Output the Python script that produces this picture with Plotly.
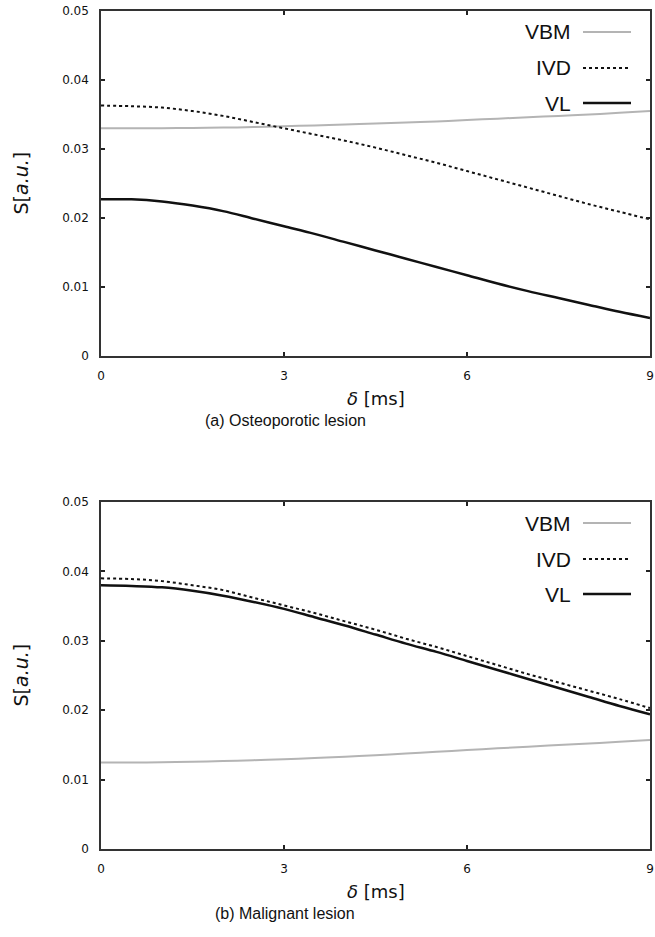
import plotly.graph_objects as go
from plotly.subplots import make_subplots

delta = [0, 0.5, 1, 1.5, 2, 2.5, 3, 3.5, 4, 4.5, 5, 5.5, 6, 6.5, 7, 7.5, 8, 8.5, 9]

# (a) Osteoporotic lesion
a_vbm = [0.0330, 0.0330, 0.03302, 0.03305, 0.0331, 0.03318, 0.0333, 0.03342, 0.03355, 0.0337,
         0.03385, 0.034, 0.0342, 0.0344, 0.0346, 0.0348, 0.0350, 0.03525, 0.0355]
a_ivd = [0.0363, 0.0362, 0.0360, 0.0355, 0.0348, 0.0339, 0.0330, 0.0321, 0.0312, 0.0302,
         0.0291, 0.0280, 0.0268, 0.0256, 0.0244, 0.0232, 0.0220, 0.0209, 0.0198]
a_vl = [0.0227, 0.0227, 0.0224, 0.0218, 0.0210, 0.0199, 0.0188, 0.0177, 0.0165, 0.0153,
        0.0141, 0.0129, 0.0117, 0.0105, 0.0094, 0.0084, 0.0074, 0.0064, 0.0055]

# (b) Malignant lesion
b_vbm = [0.01245, 0.01247, 0.0125, 0.01258, 0.01268, 0.0128, 0.01295, 0.0131, 0.0133, 0.01352,
         0.01375, 0.014, 0.01425, 0.0145, 0.01475, 0.015, 0.0152, 0.01545, 0.0157]
b_ivd = [0.0390, 0.0389, 0.0386, 0.0380, 0.0373, 0.0362, 0.0351, 0.0340, 0.0328, 0.0316,
         0.0303, 0.0291, 0.0278, 0.0265, 0.0252, 0.0240, 0.0228, 0.0216, 0.0203]
b_vl = [0.0380, 0.0379, 0.0377, 0.0372, 0.0365, 0.0356, 0.0346, 0.0334, 0.0322, 0.0309,
        0.0296, 0.0284, 0.0271, 0.0258, 0.0245, 0.0232, 0.0219, 0.0206, 0.0194]

series_names = ["VBM", "IVD", "VL"]
x_ticks = [0, 3, 6, 9]
y_ticks = [0, 0.01, 0.02, 0.03, 0.04, 0.05]
y_ticklabels = ["0", "0.01", "0.02", "0.03", "0.04", "0.05"]
captions = ["(a) Osteoporotic lesion", "(b) Malignant lesion"]

styles = {
    "VBM": dict(color="#b4b4b4", width=2, dash="solid"),
    "IVD": dict(color="#111111", width=2, dash="dot"),
    "VL": dict(color="#111111", width=2.5, dash="solid"),
}

W, H = 655, 937
ml, mr, mt, mb = 101, 5, 11, 88
pw = W - ml - mr
ph = H - mt - mb
top_px = (11, 356)
bot_px = (502, 849)
def dom(p):
    return [(H - mb - p[1]) / ph, (H - mb - p[0]) / ph]

fig = make_subplots(rows=2, cols=1)
panels = [(a_vbm, a_ivd, a_vl), (b_vbm, b_ivd, b_vl)]
for r, vals in enumerate(panels, start=1):
    for name, v in zip(series_names, vals):
        fig.add_trace(go.Scatter(x=delta, y=v, mode="lines", name=name, line=styles[name],
                                 line_shape="spline", showlegend=False), row=r, col=1)

fig.update_layout(
    width=W, height=H, margin=dict(l=ml, r=mr, t=mt, b=mb, autoexpand=False),
    paper_bgcolor="white", plot_bgcolor="white",
    font=dict(family="DejaVu Sans", size=12, color="#111"),
)
fig.update_layout(yaxis=dict(domain=dom(top_px)), yaxis2=dict(domain=dom(bot_px)))

axis_common = dict(showgrid=False, zeroline=False, showline=True, linecolor="#333", linewidth=1.5,
                   mirror="ticks", ticks="inside", ticklen=4, tickwidth=1.5, tickcolor="#222",
                   automargin=False,
                   tickfont=dict(family="DejaVu Sans", size=12, color="#111"))
for i in (1, 2):
    fig.update_xaxes(range=[0, 9], tickvals=x_ticks, ticktext=[str(t) for t in x_ticks],
                     ticklabelstandoff=8, row=i, col=1, **axis_common)
    fig.update_yaxes(range=[0, 0.05], tickvals=y_ticks, ticktext=y_ticklabels,
                     ticklabelstandoff=8, row=i, col=1, **axis_common)

ann = []
shapes = []
leg_offsets = [21, 57, 92]
for i, (px, cap) in enumerate(zip([top_px, bot_px], captions), start=1):
    xs = "x" if i == 1 else "x2"
    ys = "y" if i == 1 else "y2"
    hgt = px[1] - px[0]
    # legend
    for name, off in zip(series_names, leg_offsets):
        yd = 1 - off / hgt
        ann.append(dict(x=(573 - ml) / pw, y=yd, xref=f"{xs} domain", yref=f"{ys} domain",
                        text=name, showarrow=False, xanchor="right", yanchor="middle",
                        font=dict(family="Liberation Sans", size=21, color="#111")))
        st = styles[name]
        shapes.append(dict(type="line", x0=(583 - ml) / pw, x1=(631 - ml) / pw, y0=yd, y1=yd,
                           xref=f"{xs} domain", yref=f"{ys} domain",
                           line=dict(color=st["color"], width=st["width"], dash=st["dash"])))
    # y title
    ann.append(dict(x=(20 - ml) / pw, y=0.5, xref=f"{xs} domain", yref=f"{ys} domain",
                    text="S[<i>a.u.</i>]", textangle=-90, showarrow=False,
                    xanchor="center", yanchor="middle",
                    font=dict(family="DejaVu Sans", size=19, color="#111")))
    # x title
    ann.append(dict(x=0.5, y=-30 / hgt, xref=f"{xs} domain", yref=f"{ys} domain",
                    text="<i>δ</i> [ms]", showarrow=False, xanchor="center", yanchor="top",
                    font=dict(family="DejaVu Sans", size=18, color="#111")))
    # caption
    ann.append(dict(x=(285 - ml) / pw, y=-54 / hgt, xref=f"{xs} domain", yref=f"{ys} domain",
                    text=cap, showarrow=False, xanchor="center", yanchor="top",
                    font=dict(family="Liberation Sans", size=16, color="#111")))

fig.update_layout(annotations=ann, shapes=shapes)
fig.write_html("out.html", config={"displayModeBar": False},
               post_script="document.body.style.margin='0';document.body.style.overflow='hidden';")
